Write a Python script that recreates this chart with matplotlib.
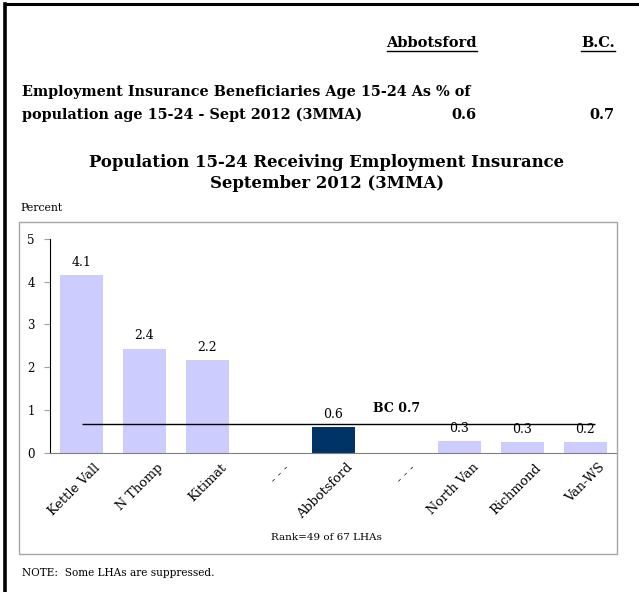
import matplotlib
matplotlib.use("Agg")
import matplotlib.pyplot as plt
from matplotlib.patches import Rectangle
from matplotlib.lines import Line2D
from matplotlib.transforms import ScaledTranslation

# data
areas = ["Kettle Vall", "N Thomp", "Kitimat", "- - -", "Abbotsford", "- - -",
         "North Van", "Richmond", "Van-WS"]
pct = [4.15, 2.43, 2.16, None, 0.60, None, 0.27, 0.25, 0.24]
pct_labels = ["4.1", "2.4", "2.2", "", "0.6", "", "0.3", "0.3", "0.2"]
bc_value = 0.66
bc_label = "BC 0.7"
abbotsford_rate = "0.6"
bc_rate = "0.7"
highlight = "Abbotsford"

plt.rcParams['font.family'] = ['DejaVu Serif']

W, H = 639, 592
fig = plt.figure(figsize=(W / 100, H / 100), dpi=100)


def fx(x):
    return x / W


def fy(y):
    return 1 - y / H


# page borders
fig.add_artist(Line2D([fx(5), 1], [fy(4), fy(4)], color="black", lw=2.2))
fig.add_artist(Line2D([fx(5), fx(5)], [fy(4), 0], color="black", lw=2.6))
fig.text(fx(322), fy(-9), "Employment", fontsize=12, fontweight="bold",
         ha="center", va="bottom")

# summary table
hdr1 = fig.text(fx(477), fy(43), "Abbotsford", fontsize=10.5, fontweight="bold",
                ha="right", va="center")
hdr2 = fig.text(fx(615), fy(43), "B.C.", fontsize=10.5, fontweight="bold",
                ha="right", va="center")
fig.text(fx(22), fy(92), "Employment Insurance Beneficiaries Age 15-24 As % of",
         fontsize=10.4, fontweight="bold", ha="left", va="center")
fig.text(fx(22), fy(115), "population age 15-24 - Sept 2012 (3MMA)",
         fontsize=10.4, fontweight="bold", ha="left", va="center")
fig.text(fx(476), fy(115), abbotsford_rate, fontsize=10.5, fontweight="bold",
         ha="right", va="center")
fig.text(fx(614), fy(115), bc_rate, fontsize=10.5, fontweight="bold",
         ha="right", va="center")

# chart title
fig.text(fx(327), fy(173), "Population 15-24 Receiving Employment Insurance\nSeptember 2012 (3MMA)",
         fontsize=11.9, fontweight="bold", ha="center", va="center", linespacing=1.3)
fig.text(fx(20), fy(208), "Percent", fontsize=7.8, ha="left", va="center")

# chart frame
fig.add_artist(Rectangle((fx(19), fy(554)), fx(617 - 19), (554 - 222) / H,
                         fill=False, edgecolor="#a6a6a6", lw=1))

ax = fig.add_axes([fx(50), fy(452.7), fx(567), (452.7 - 239) / H])
x = list(range(len(areas)))
heights = [v if v is not None else 0 for v in pct]
colors = ["#003366" if a == highlight else "#ccccff" for a in areas]
ax.bar(x, heights, width=0.67, color=colors, zorder=2)
for xi, v, lab in zip(x, pct, pct_labels):
    if v is not None:
        ax.annotate(lab, (xi, v), xytext=(0, 13), textcoords="offset pixels",
                    ha="center", va="center", fontsize=9)

ax.hlines(bc_value, 0, 8.15, color="black", lw=1, zorder=3)
ax.text(5, 1.03, bc_label, ha="center", va="center", fontsize=9, fontweight="bold")

ax.set_xlim(-0.5, len(areas) - 0.5)
ax.set_ylim(0, 5)
ax.set_yticks([0, 1, 2, 3, 4, 5])
ax.set_xticks(x)
ax.set_xticklabels([])
# category labels drawn slightly right of the tick, like the original
shift = ScaledTranslation(0.17, -0.13, fig.dpi_scale_trans)
for xi, name in zip(x, areas):
    ax.text(xi, 0, name, transform=ax.get_xaxis_transform() + shift,
            rotation=45, ha="right", va="center", rotation_mode="anchor",
            fontsize=9.3)
ax.tick_params(axis="x", length=0)
ax.tick_params(axis="y", length=4, color="#a0a0a0", labelsize=8.5, pad=7)
for s in ["top", "right"]:
    ax.spines[s].set_visible(False)
ax.spines["left"].set_color("black")
ax.spines["bottom"].set_color("#808080")
ax.patch.set_alpha(0)

fig.text(fx(326), fy(538), "Rank=49 of 67 LHAs", fontsize=7.5, ha="center", va="center")
fig.text(fx(22), fy(573), "NOTE:  Some LHAs are suppressed.", fontsize=7.6,
         ha="left", va="center")

# underline the column headers using their drawn extents
fig.canvas.draw()
for t in (hdr1, hdr2):
    bb = t.get_window_extent().transformed(fig.transFigure.inverted())
    fig.add_artist(Line2D([bb.x0, bb.x1], [fy(51), fy(51)], color="black", lw=1))

fig.savefig("out.png", dpi=100)
